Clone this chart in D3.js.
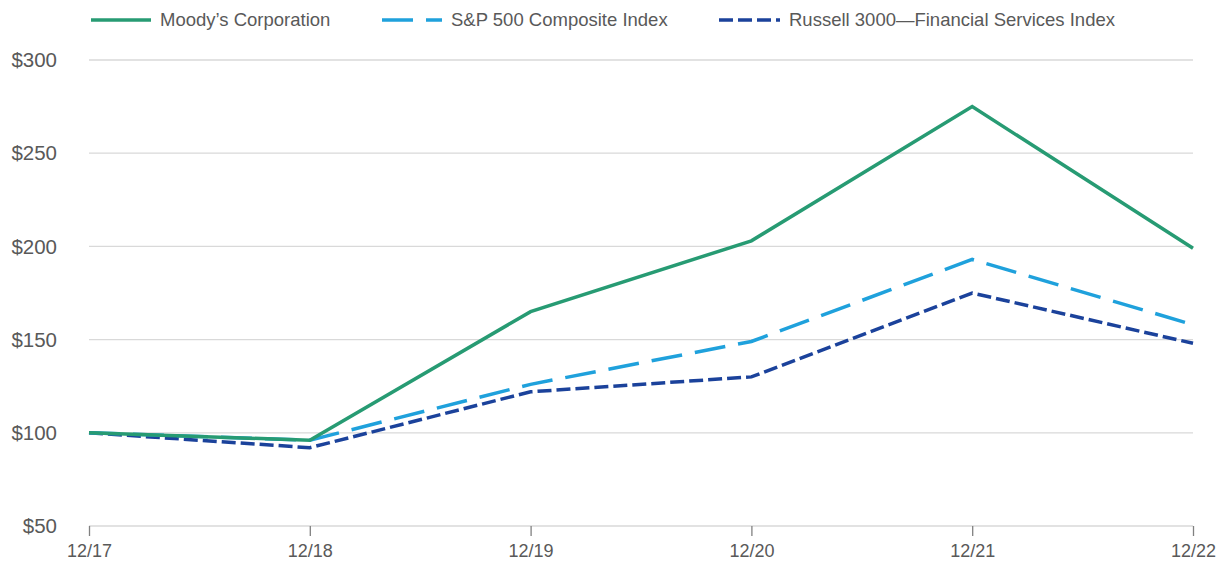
<!DOCTYPE html>
<html>
<head>
<meta charset="utf-8">
<script src="https://cdn.jsdelivr.net/npm/d3@7"></script>
<style>
  body { margin: 0; background: #fff; }
  svg text { font-family: "Liberation Sans", Arial, sans-serif; fill: #595959; }
</style>
</head>
<body>
<svg id="chart" width="1217" height="562"></svg>
<script>
const periods = ['12/17', '12/18', '12/19', '12/20', '12/21', '12/22']
const moodys = [100, 96, 165, 203, 275, 199]
const sp500 = [100, 96, 126, 149, 193, 158]
const russell = [100, 92, 122, 130, 175, 148]
const yTicks = [50, 100, 150, 200, 250, 300]

const series = [
  { name: 'Moody\u2019s Corporation', values: moodys, color: '#279b73', dash: null, lx: 91, lw: 60 },
  { name: 'S&P 500 Composite Index', values: sp500, color: '#1fa1dc', dash: '31,13', lx: 382, lw: 60 },
  { name: 'Russell 3000\u2014Financial Services Index', values: russell, color: '#1b429b', dash: '14,5', lx: 719, lw: 61 }
]

const svg = d3.select('#chart')

// scales
const x = d3.scalePoint().domain(periods).range([89, 1193])
const y = d3.scaleLinear().domain([50, 300]).range([526, 60])

// gridlines
svg.append('g')
  .selectAll('line')
  .data(yTicks.slice(1))
  .enter().append('line')
  .attr('x1', 89).attr('x2', 1193)
  .attr('y1', d => y(d)).attr('y2', d => y(d))
  .attr('stroke', '#d9d9d9').attr('stroke-width', 1.3)

// y labels
svg.append('g')
  .selectAll('text')
  .data(yTicks)
  .enter().append('text')
  .attr('x', 57)
  .attr('y', d => y(d))
  .attr('dy', '.35em')
  .attr('text-anchor', 'end')
  .style('font-size', '20.5px')
  .text(d => '$' + d)

// x axis
const xAxis = svg.append('g')
  .attr('transform', `translate(0, ${y(50)})`)
  .call(d3.axisBottom(x).tickSize(10).tickPadding(8))
xAxis.select('.domain').attr('stroke', '#d9d9d9').attr('stroke-width', 1.3).attr('d', `M89,0H1193`)
xAxis.selectAll('.tick line').attr('stroke', '#808080').attr('stroke-width', 1.3)
xAxis.selectAll('.tick text')
  .style('font-size', '18px')
  .style('font-family', '"Liberation Sans", Arial, sans-serif')
  .attr('fill', '#595959')

// lines
const line = d3.line()
  .x((d, i) => x(periods[i]))
  .y(d => y(d))

svg.append('g')
  .selectAll('path')
  .data(series.slice().reverse())
  .enter().append('path')
  .attr('d', d => line(d.values))
  .attr('fill', 'none')
  .attr('stroke', d => d.color)
  .attr('stroke-width', 3.5)
  .attr('stroke-dasharray', d => d.dash)

// legend
const legend = svg.append('g')
  .selectAll('g')
  .data(series)
  .enter().append('g')
  .attr('transform', d => `translate(${d.lx}, 20)`)

legend.append('line')
  .attr('x1', 0).attr('x2', d => d.lw)
  .attr('stroke', d => d.color)
  .attr('stroke-width', 3.5)
  .attr('stroke-dasharray', d => d.dash)

legend.append('text')
  .attr('x', d => d.lw + 9)
  .attr('dy', '.35em')
  .style('font-size', '18.5px')
  .text(d => d.name)
</script>
</body>
</html>
